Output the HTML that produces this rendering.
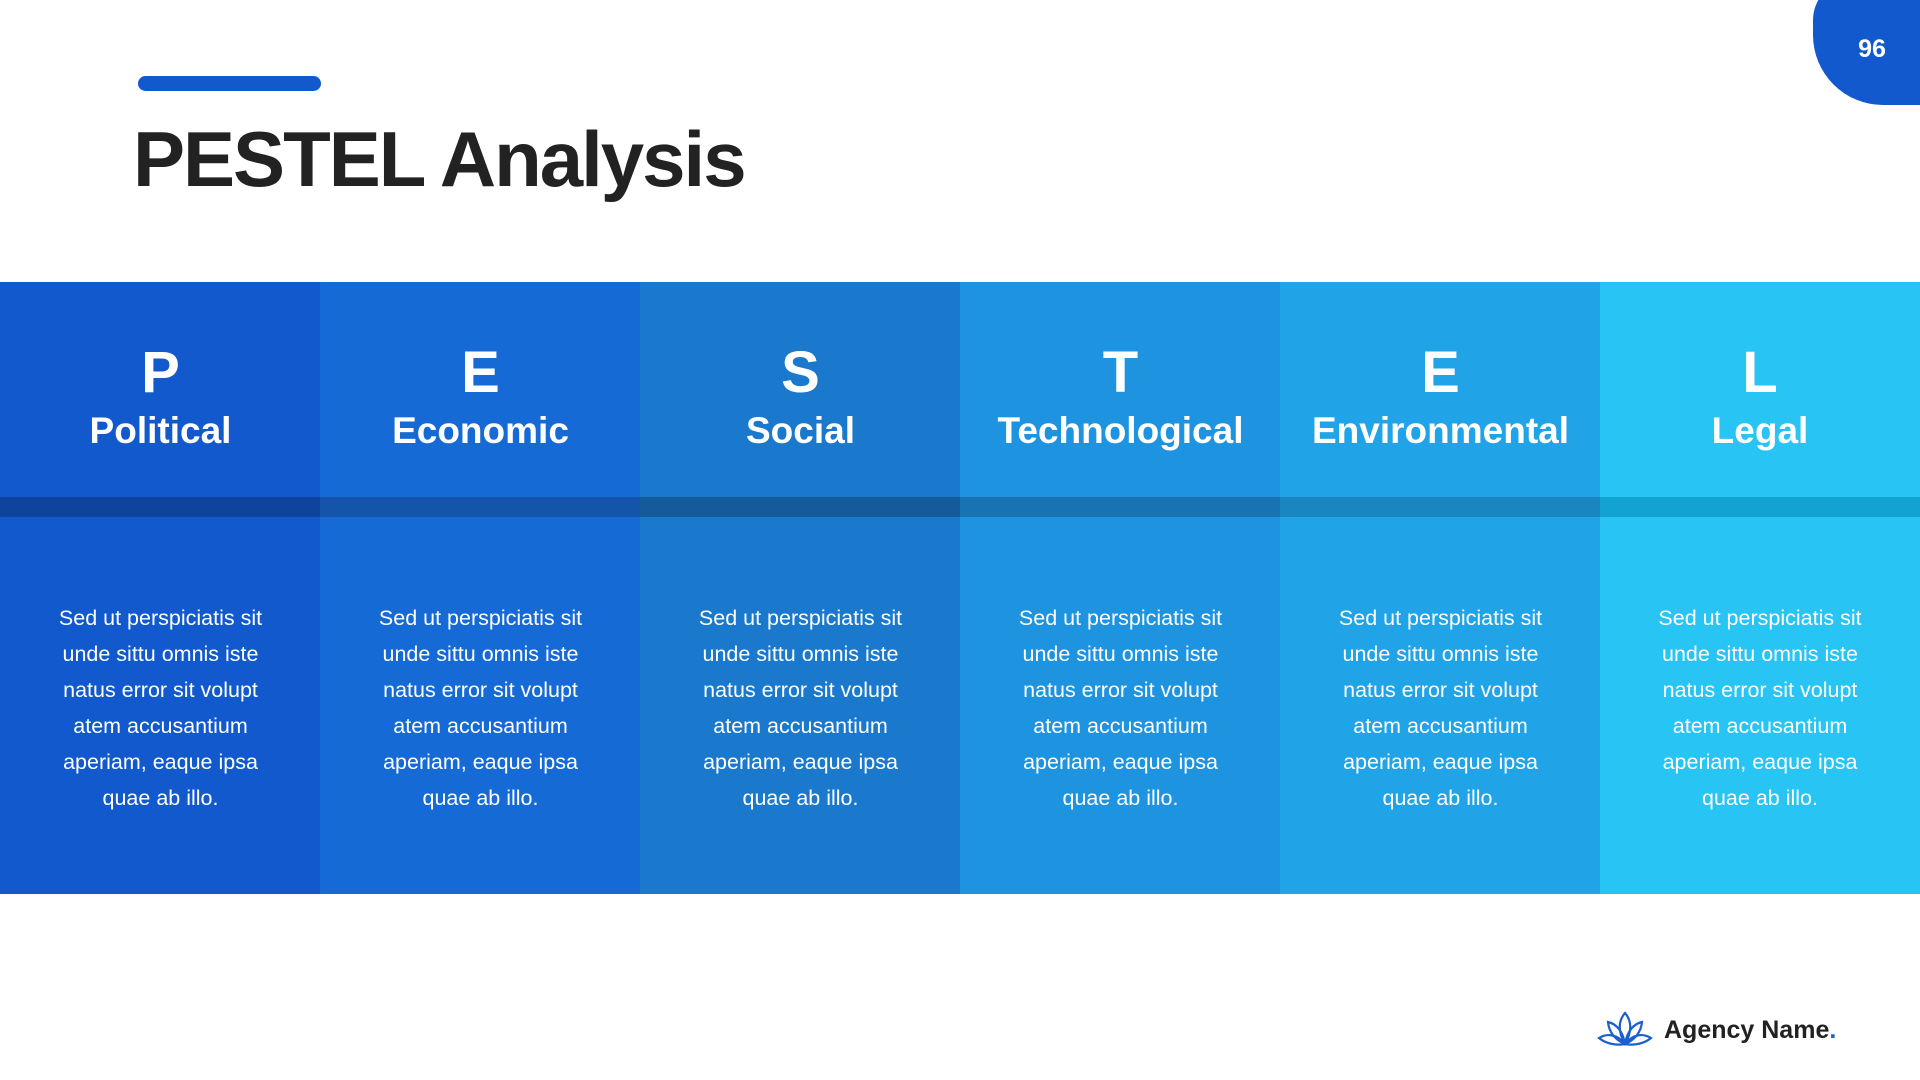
<!DOCTYPE html>
<html><head><meta charset="utf-8"><style>
*{margin:0;padding:0;box-sizing:border-box}
body{width:1920px;height:1080px;background:#fff;position:relative;overflow:hidden;font-family:"Liberation Sans",sans-serif}
.bar{position:absolute;left:138px;top:76px;width:183px;height:15px;border-radius:8px;background:#1159CC}
h1{position:absolute;left:133px;top:114px;font-size:78px;font-weight:bold;color:#222;letter-spacing:-2px;line-height:90px}
.blob{position:absolute;left:1813px;top:-20px;width:140px;height:125px;background:#1159CC;border-radius:0 0 0 70px/0 0 0 70px;border-top-left-radius:40px}
.num{position:absolute;left:1840px;top:35px;width:64px;text-align:center;color:#fff;font-weight:bold;font-size:25px}
.col{position:absolute;top:282px;width:321px;height:612px;color:#fff;text-align:center}
.band{position:absolute;left:0;right:0;top:215px;height:20px}
.L{position:absolute;left:0;right:0;top:61px;font-size:58px;font-weight:bold;line-height:60px}
.N{position:absolute;left:0;right:0;top:127px;font-size:37px;font-weight:bold;line-height:44px}
.T{position:absolute;left:0;right:0;top:318px;font-size:21.5px;line-height:36px}
.logo{position:absolute;left:1664px;top:1016px;font-size:25px;font-weight:bold;color:#222}
.logo span{color:#1a5fd0}
</style></head><body>
<div class="bar"></div>
<h1>PESTEL Analysis</h1>
<div class="blob"></div><div class="num">96</div>

<div class="col" style="left:0;background:#1159CC"><div class="band" style="background:#0F449E"></div><div class="L">P</div><div class="N">Political</div><div class="T">Sed ut perspiciatis sit<br>unde sittu omnis iste<br>natus error sit volupt<br>atem accusantium<br>aperiam, eaque ipsa<br>quae ab illo.</div></div>
<div class="col" style="left:320px;background:#166AD5"><div class="band" style="background:#1455AB"></div><div class="L">E</div><div class="N">Economic</div><div class="T">Sed ut perspiciatis sit<br>unde sittu omnis iste<br>natus error sit volupt<br>atem accusantium<br>aperiam, eaque ipsa<br>quae ab illo.</div></div>
<div class="col" style="left:640px;background:#1A79CC"><div class="band" style="background:#155B9C"></div><div class="L">S</div><div class="N">Social</div><div class="T">Sed ut perspiciatis sit<br>unde sittu omnis iste<br>natus error sit volupt<br>atem accusantium<br>aperiam, eaque ipsa<br>quae ab illo.</div></div>
<div class="col" style="left:960px;background:#1E93E0"><div class="band" style="background:#1873B3"></div><div class="L">T</div><div class="N">Technological</div><div class="T">Sed ut perspiciatis sit<br>unde sittu omnis iste<br>natus error sit volupt<br>atem accusantium<br>aperiam, eaque ipsa<br>quae ab illo.</div></div>
<div class="col" style="left:1280px;background:#21A3E7"><div class="band" style="background:#1A86C0"></div><div class="L">E</div><div class="N">Environmental</div><div class="T">Sed ut perspiciatis sit<br>unde sittu omnis iste<br>natus error sit volupt<br>atem accusantium<br>aperiam, eaque ipsa<br>quae ab illo.</div></div>
<div class="col" style="left:1600px;width:320px;background:#28C4F3"><div class="band" style="background:#12A3D3"></div><div class="L">L</div><div class="N">Legal</div><div class="T">Sed ut perspiciatis sit<br>unde sittu omnis iste<br>natus error sit volupt<br>atem accusantium<br>aperiam, eaque ipsa<br>quae ab illo.</div></div>

<svg style="position:absolute;left:1597px;top:1010px" width="56" height="38" viewBox="0 0 56 38" fill="none" stroke="#1a5fd0" stroke-width="2.2">
<path d="M28 3 C21 11 21 22 28 34 C35 22 35 11 28 3Z"/>
<path d="M28 34 C18 30 12 22 11 12 C20 14 26 22 28 34"/>
<path d="M28 34 C38 30 44 22 45 12 C36 14 30 22 28 34"/>
<path d="M28 34 C18 36 8 33 2 28 C10 23 20 24 28 34"/>
<path d="M28 34 C38 36 48 33 54 28 C46 23 36 24 28 34"/>
</svg>
<div class="logo">Agency Name<span>.</span></div>
</body></html>
